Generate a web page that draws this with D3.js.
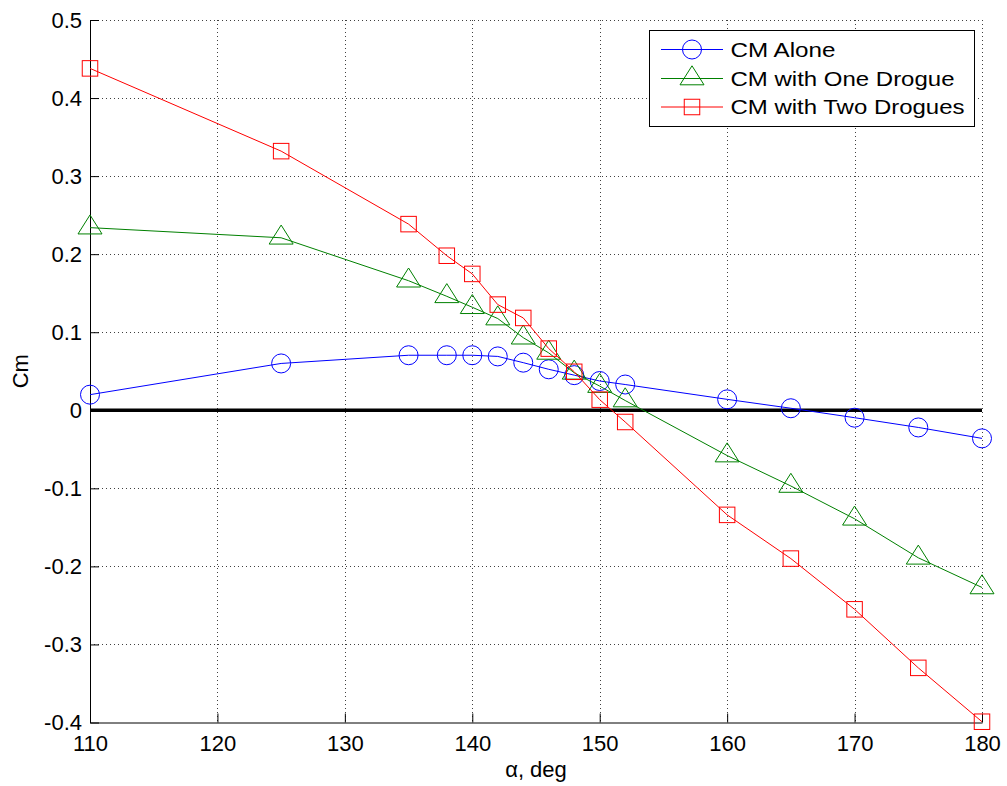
<!DOCTYPE html>
<html>
<head>
<meta charset="utf-8">
<script src="https://cdn.jsdelivr.net/npm/d3@7"></script>
<style>
  html, body { margin: 0; padding: 0; background: #fff; }
  svg { display: block; font-family: "Liberation Sans", Arial, sans-serif; }
</style>
</head>
<body>
<div id="chart"></div>
<script>
// angle of attack, deg
const alpha = [110, 125, 135, 138, 140, 142, 144, 146, 148, 150, 152, 160, 165, 170, 175, 180];
const cmAlone = [0.020, 0.060, 0.0705, 0.0705, 0.0705, 0.069, 0.061, 0.0525, 0.045, 0.0375, 0.033, 0.014, 0.0026, -0.0095, -0.022, -0.036];
const cmOneDrogue = [0.234, 0.221, 0.166, 0.146, 0.132, 0.1175, 0.093, 0.0735, 0.048, 0.031, 0.0125, -0.058, -0.097, -0.139, -0.189, -0.227];
const cmTwoDrogues = [0.438, 0.332, 0.2385, 0.198, 0.1747, 0.1354, 0.1183, 0.079, 0.0493, 0.0136, -0.015, -0.134, -0.190, -0.255, -0.330, -0.399];

const xTicks = [110, 120, 130, 140, 150, 160, 170, 180];
const yTicks = [-0.4, -0.3, -0.2, -0.1, 0, 0.1, 0.2, 0.3, 0.4, 0.5];
const yTickLabels = ["-0.4", "-0.3", "-0.2", "-0.1", "0", "0.1", "0.2", "0.3", "0.4", "0.5"];

const seriesNames = ["CM Alone", "CM with One Drogue", "CM with Two Drogues"];
const seriesColors = ["#0000ff", "#008000", "#ff0000"];
const seriesMarkers = ["circle", "triangle", "square"];

const width = 1007, height = 786;
const plotLeft = 90, plotRight = 982, plotTop = 20, plotBottom = 722.5;

const x = d3.scaleLinear().domain([110, 180]).range([plotLeft, plotRight]);
const y = d3.scaleLinear().domain([-0.4, 0.5]).range([plotBottom, plotTop]);

const svg = d3.select("#chart").append("svg")
    .attr("width", width)
    .attr("height", height);

// grid
const grid = svg.append("g")
    .attr("stroke", "#000")
    .attr("stroke-opacity", 0.75)
    .attr("stroke-width", 1)
    .attr("stroke-dasharray", "1,3");

grid.selectAll("line.gx")
  .data(xTicks.slice(1))
  .join("line")
    .attr("class", "gx")
    .attr("x1", d => Math.round(x(d)) + 0.5)
    .attr("x2", d => Math.round(x(d)) + 0.5)
    .attr("y1", plotTop)
    .attr("y2", plotBottom);

grid.selectAll("line.gy")
  .data(yTicks.slice(1))
  .join("line")
    .attr("class", "gy")
    .attr("x1", plotLeft)
    .attr("x2", plotRight)
    .attr("y1", d => Math.round(y(d)) + 0.5)
    .attr("y2", d => Math.round(y(d)) + 0.5);

// axes (box off, ticks inside)
const xAxis = d3.axisBottom(x)
    .tickValues(xTicks)
    .tickSizeInner(-9)
    .tickSizeOuter(0)
    .tickPadding(13);

const yAxis = d3.axisLeft(y)
    .tickValues(yTicks)
    .tickFormat((d, i) => yTickLabels[i])
    .tickSizeInner(-9)
    .tickSizeOuter(0)
    .tickPadding(8);

const gx = svg.append("g")
    .attr("transform", `translate(0,${plotBottom})`)
    .call(xAxis);

const gy = svg.append("g")
    .attr("transform", `translate(${plotLeft},0)`)
    .call(yAxis);

[gx, gy].forEach(g => {
  g.select(".domain").attr("stroke", "#000").attr("stroke-width", 1);
  g.selectAll(".tick line").attr("stroke", "#000");
  g.selectAll(".tick text")
      .attr("fill", "#000")
      .style("font-family", "'Liberation Sans', Arial, sans-serif")
      .style("font-size", "22px");
});

gx.selectAll(".tick text").attr("dy", "0.71em");

// zero line
svg.append("line")
    .attr("x1", x(110))
    .attr("x2", x(180))
    .attr("y1", y(0))
    .attr("y2", y(0))
    .attr("stroke", "#000")
    .attr("stroke-width", 3.5);

// markers
function marker(sel, type, color) {
  if (type === "circle") {
    sel.append("circle").attr("r", 9.5);
  } else if (type === "square") {
    sel.append("rect").attr("x", -7.75).attr("y", -7.75).attr("width", 15.5).attr("height", 15.5);
  } else {
    sel.append("path").attr("d", "M0,-12.7L12,6.3L-12,6.3Z");
  }
  sel.selectAll("*")
      .attr("fill", "none")
      .attr("stroke", color)
      .attr("stroke-width", 1);
}

const allSeries = [cmAlone, cmOneDrogue, cmTwoDrogues];
const line = d3.line()
    .x(d => x(d[0]))
    .y(d => y(d[1]));

allSeries.forEach((vals, s) => {
  const pts = alpha.map((a, i) => [a, vals[i]]);
  const g = svg.append("g");
  g.append("path")
      .datum(pts)
      .attr("d", line)
      .attr("fill", "none")
      .attr("stroke", seriesColors[s])
      .attr("stroke-width", 1);
  g.selectAll("g.m")
    .data(pts)
    .join("g")
      .attr("class", "m")
      .attr("transform", d => `translate(${x(d[0])},${y(d[1])})`)
      .each(function() { marker(d3.select(this), seriesMarkers[s], seriesColors[s]); });
});

// legend
const legend = svg.append("g");
legend.append("rect")
    .attr("x", 649.5)
    .attr("y", 30.5)
    .attr("width", 325)
    .attr("height", 96)
    .attr("fill", "#fff")
    .attr("stroke", "#000")
    .attr("stroke-width", 1);

const legendRowY = [49.5, 78.5, 107];
const legendTextLen = [105, 224, 234];

seriesNames.forEach((name, i) => {
  const row = legend.append("g").attr("transform", `translate(0,${legendRowY[i]})`);
  row.append("line")
      .attr("x1", 661)
      .attr("x2", 723)
      .attr("stroke", seriesColors[i])
      .attr("stroke-width", 1);
  const m = row.append("g").attr("transform", "translate(692,0)");
  marker(m, seriesMarkers[i], seriesColors[i]);
  row.append("text")
      .attr("x", 730.5)
      .attr("dy", "0.36em")
      .attr("textLength", legendTextLen[i])
      .attr("lengthAdjust", "spacingAndGlyphs")
      .style("font-size", "20px")
      .attr("fill", "#000")
      .text(name);
});

// axis labels
svg.append("text")
    .attr("x", (plotLeft + plotRight) / 2)
    .attr("y", 777)
    .attr("text-anchor", "middle")
    .style("font-size", "22px")
    .text("α, deg");

svg.append("text")
    .attr("transform", `translate(28,${(plotTop + plotBottom) / 2}) rotate(-90)`)
    .attr("text-anchor", "middle")
    .style("font-size", "22px")
    .text("Cm");
</script>
</body>
</html>
